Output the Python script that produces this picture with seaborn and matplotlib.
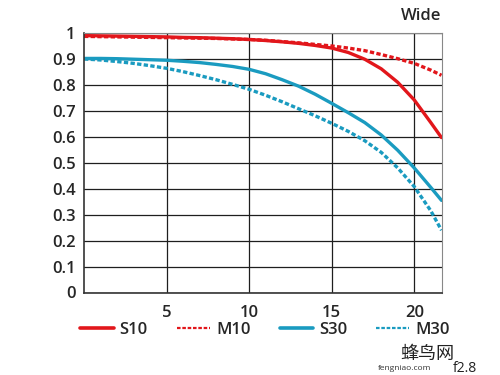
import pandas as pd
import matplotlib.pyplot as plt
import seaborn as sns

# 讀取圖上的數值 (MTF 曲線)
x_pos = [0, 1, 2, 3, 4, 5, 6, 7, 8, 9, 10, 11, 12, 13, 14, 15, 16, 17, 18, 19, 20, 21, 21.65]
s10 = [0.99, 0.989, 0.988, 0.987, 0.986, 0.985, 0.983, 0.982, 0.98, 0.978, 0.975, 0.971,
       0.966, 0.96, 0.952, 0.942, 0.925, 0.899, 0.862, 0.81, 0.742, 0.655, 0.597]
m10 = [0.987, 0.986, 0.985, 0.984, 0.983, 0.982, 0.981, 0.98, 0.979, 0.977, 0.975, 0.972,
       0.967, 0.962, 0.956, 0.95, 0.942, 0.932, 0.917, 0.901, 0.883, 0.857, 0.837]
s30 = [0.902, 0.902, 0.901, 0.899, 0.897, 0.895, 0.891, 0.886, 0.879, 0.871, 0.86, 0.843,
       0.82, 0.795, 0.764, 0.729, 0.693, 0.655, 0.607, 0.548, 0.48, 0.405, 0.355]
m30 = [0.9, 0.896, 0.89, 0.883, 0.874, 0.864, 0.851, 0.836, 0.82, 0.802, 0.783, 0.76,
       0.735, 0.708, 0.681, 0.652, 0.621, 0.585, 0.54, 0.48, 0.408, 0.315, 0.24]

series_names = ['S10', 'M10', 'S30', 'M30']
series_colors = ['#e2161b', '#e2161b', '#1a9bc0', '#1a9bc0']
series_dash = ['-', (0, (1.3, 0.7)), '-', (0, (1.3, 0.7))]

y_ticks = [0, 0.1, 0.2, 0.3, 0.4, 0.5, 0.6, 0.7, 0.8, 0.9, 1]
y_labels = ['0', '0.1', '0.2', '0.3', '0.4', '0.5', '0.6', '0.7', '0.8', '0.9', '1']
x_ticks = [5, 10, 15, 20]

df = pd.DataFrame({'x': x_pos, 'S10': s10, 'M10': m10, 'S30': s30, 'M30': m30})

sns.set_style('white')
plt.rcParams['font.family'] = ['Open Sans', 'Noto Sans CJK SC', 'DejaVu Sans']

fig = plt.figure(figsize=(5, 3.75), dpi=100)
ax = fig.add_axes([0.168, 0.22, 0.715, 0.692])

handles = []
for name, c, ls in zip(series_names, series_colors, series_dash):
    sns.lineplot(data=df, x='x', y=name, ax=ax, color=c, linewidth=2.4, linestyle=ls)
    if ls == '-':
        h, = ax.plot([], [], color=c, linewidth=2.6, linestyle='-')
    else:
        h, = ax.plot([], [], color=c, linewidth=1.6, linestyle=(0, (1.6, 0.8)))
    handles.append(h)

ax.set_xlim(0, 21.65)
ax.set_ylim(0, 1)
ax.set_xticks(x_ticks)
ax.set_yticks(y_ticks)
ax.set_yticklabels(y_labels)
ax.tick_params(axis='both', length=0, labelsize=12, pad=6)
ax.tick_params(axis='x', pad=9)
for lab in ax.get_xticklabels() + ax.get_yticklabels():
    lab.set_fontweight('semibold')
ax.grid(True, color='#1e1e1e', linewidth=0.9)
ax.set_axisbelow(True)
ax.set_xlabel('')
ax.set_ylabel('')
for side in ['left', 'bottom']:
    ax.spines[side].set_color('#333333')
    ax.spines[side].set_linewidth(1.2)
for side in ['top', 'right']:
    ax.spines[side].set_color('#888888')
    ax.spines[side].set_linewidth(0.8)

fig.text(0.883, 0.935, 'Wide', ha='right', va='bottom', fontsize=12, fontweight='semibold')

fig.legend(handles, series_names, loc='center', bbox_to_anchor=(0.53, 0.12), ncol=4,
           frameon=False, handlelength=2.0, handletextpad=0.35, columnspacing=1.75,
           prop={'size': 12, 'weight': 'semibold'})

# 浮水印
fig.text(0.855, 0.055, '蜂鸟网', ha='center', va='center', fontsize=13, color='#222222')
fig.text(0.81, 0.016, 'fengniao.com', ha='center', va='center', fontsize=6, color='#333333')
fig.text(0.93, 0.016, 'f2.8', ha='center', va='center', fontsize=10, color='#222222')

fig.savefig('out.png', dpi=100)
